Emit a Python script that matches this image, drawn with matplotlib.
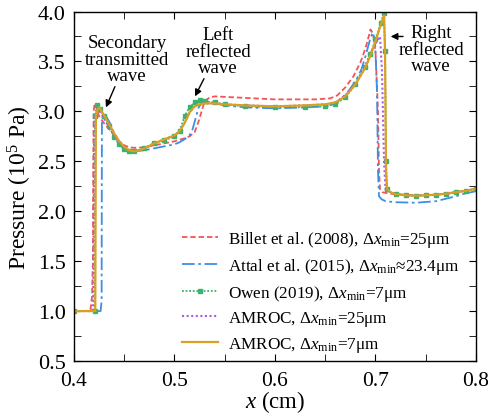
import matplotlib
matplotlib.use('Agg')
from matplotlib import pyplot as plt

plt.rcParams['font.family'] = ['Liberation Serif', 'DejaVu Serif']
plt.rcParams['mathtext.fontset'] = 'custom'
plt.rcParams['mathtext.rm'] = 'Liberation Serif'
plt.rcParams['mathtext.it'] = 'Liberation Serif:italic'

# Billet et al. (2008)
billet_x = [0.400, 0.414, 0.4165, 0.418, 0.4188, 0.4192, 0.4196, 0.4205, 0.422, 0.425, 0.430,
            0.435, 0.440, 0.445, 0.450, 0.455, 0.460, 0.470, 0.480, 0.490, 0.500, 0.510,
            0.515, 0.520, 0.524, 0.527, 0.530, 0.535, 0.540, 0.560, 0.580, 0.600, 0.620,
            0.640, 0.655, 0.662, 0.670, 0.678, 0.685, 0.690, 0.6935, 0.695, 0.6975, 0.700,
            0.7025, 0.7035, 0.7045, 0.707, 0.712, 0.720, 0.740, 0.760, 0.780, 0.800]
billet_y = [1.00, 1.00, 1.02, 1.15, 1.50, 2.50, 3.00, 3.08, 3.05, 2.95, 2.88,
            2.82, 2.76, 2.70, 2.66, 2.64, 2.635, 2.64, 2.66, 2.68, 2.70, 2.73,
            2.75, 2.79, 2.90, 3.00, 3.10, 3.14, 3.15, 3.14, 3.13, 3.12, 3.12,
            3.12, 3.13, 3.16, 3.24, 3.35, 3.49, 3.63, 3.76, 3.82, 3.78, 3.60,
            3.00, 2.40, 2.22, 2.19, 2.18, 2.17, 2.16, 2.165, 2.19, 2.225]

# Attal et al. (2015)
attal_x = [0.400, 0.4265, 0.4275, 0.4278, 0.429, 0.432, 0.436, 0.440, 0.445, 0.450, 0.455,
           0.460, 0.470, 0.480, 0.490, 0.500, 0.505, 0.510, 0.515, 0.518, 0.521, 0.524,
           0.528, 0.532, 0.540, 0.550, 0.570, 0.600, 0.630, 0.650, 0.660, 0.670, 0.680,
           0.686, 0.690, 0.694, 0.697, 0.6995, 0.7015, 0.7025, 0.7035, 0.706, 0.710,
           0.720, 0.740, 0.760, 0.780, 0.790, 0.800]
attal_y = [1.00, 1.00, 1.10, 2.90, 2.97, 2.95, 2.88, 2.78, 2.69, 2.64, 2.61,
           2.60, 2.61, 2.63, 2.65, 2.67, 2.69, 2.72, 2.76, 2.82, 2.93, 3.04,
           3.09, 3.10, 3.08, 3.06, 3.04, 3.03, 3.04, 3.05, 3.08, 3.16, 3.30,
           3.42, 3.55, 3.70, 3.79, 3.72, 3.20, 2.40, 2.15, 2.12, 2.10,
           2.09, 2.085, 2.10, 2.15, 2.18, 2.20]

# Owen (2019)
owen_x = [0.400, 0.4205, 0.421, 0.4225, 0.426, 0.430, 0.435, 0.440, 0.445, 0.450, 0.455,
          0.460, 0.470, 0.480, 0.490, 0.500, 0.505, 0.510, 0.515, 0.520, 0.525, 0.530,
          0.540, 0.550, 0.570, 0.600, 0.630, 0.650, 0.660, 0.670, 0.680, 0.690, 0.695,
          0.700, 0.705, 0.7085, 0.7095, 0.7105, 0.7115, 0.715, 0.720, 0.730, 0.740,
          0.750, 0.760, 0.770, 0.780, 0.790, 0.800]
owen_y = [1.00, 1.00, 2.95, 3.06, 3.02, 2.95, 2.85, 2.74, 2.67, 2.62, 2.60,
          2.60, 2.63, 2.68, 2.71, 2.75, 2.80, 2.95, 3.04, 3.09, 3.11, 3.10,
          3.09, 3.07, 3.05, 3.04, 3.04, 3.05, 3.07, 3.14, 3.27, 3.44, 3.57,
          3.72, 3.88, 3.99, 3.60, 2.50, 2.22, 2.19, 2.17, 2.16, 2.155,
          2.16, 2.165, 2.175, 2.19, 2.205, 2.225]

# AMROC, 25 um
amroc25_x = [0.400, 0.418, 0.419, 0.4195, 0.420, 0.4235, 0.427, 0.430, 0.435, 0.440, 0.445,
             0.450, 0.455, 0.460, 0.465, 0.470, 0.480, 0.490, 0.500, 0.505, 0.510, 0.515,
             0.520, 0.525, 0.530, 0.540, 0.550, 0.570, 0.600, 0.630, 0.650, 0.660, 0.670,
             0.680, 0.690, 0.695, 0.700, 0.7045, 0.7065, 0.7085, 0.710, 0.715, 0.720,
             0.730, 0.740, 0.750, 0.760, 0.770, 0.780, 0.790, 0.800]
amroc25_y = [1.00, 1.00, 1.05, 1.60, 2.90, 3.03, 2.98, 2.93, 2.84, 2.76, 2.69,
             2.64, 2.61, 2.60, 2.61, 2.63, 2.68, 2.72, 2.76, 2.80, 2.89, 2.99,
             3.05, 3.07, 3.08, 3.08, 3.07, 3.06, 3.05, 3.06, 3.07, 3.09, 3.16,
             3.28, 3.46, 3.58, 3.68, 3.75, 3.40, 2.50, 2.22, 2.19, 2.17,
             2.16, 2.155, 2.16, 2.165, 2.175, 2.19, 2.205, 2.225]

# AMROC, 7 um
amroc7_x = [0.400, 0.4212, 0.4218, 0.4235, 0.425, 0.430, 0.435, 0.440, 0.445, 0.450, 0.455,
            0.460, 0.465, 0.470, 0.480, 0.490, 0.500, 0.505, 0.510, 0.515, 0.520, 0.525,
            0.530, 0.540, 0.550, 0.570, 0.600, 0.630, 0.650, 0.660, 0.670, 0.680, 0.690,
            0.695, 0.700, 0.705, 0.7085, 0.7095, 0.7105, 0.7115, 0.715, 0.720, 0.730,
            0.740, 0.750, 0.760, 0.770, 0.780, 0.790, 0.800]
amroc7_y = [1.00, 1.00, 2.95, 3.02, 3.04, 2.96, 2.87, 2.78, 2.70, 2.645, 2.61,
            2.60, 2.61, 2.63, 2.68, 2.72, 2.76, 2.80, 2.88, 2.99, 3.05, 3.07,
            3.08, 3.08, 3.07, 3.06, 3.05, 3.06, 3.07, 3.09, 3.15, 3.27, 3.44,
            3.56, 3.70, 3.86, 3.96, 3.60, 2.40, 2.22, 2.19, 2.17, 2.16,
            2.155, 2.16, 2.165, 2.175, 2.19, 2.205, 2.225]

labels = [r'Billet et al. (2008), $\Delta x_{\mathrm{min}}$=25μm',
          r'Attal et al. (2015), $\Delta x_{\mathrm{min}}$≈23.4μm',
          r'Owen (2019), $\Delta x_{\mathrm{min}}$=7μm',
          r'AMROC, $\Delta x_{\mathrm{min}}$=25μm',
          r'AMROC, $\Delta x_{\mathrm{min}}$=7μm']

fig = plt.figure(figsize=(4.88, 4.14), dpi=100)
ax = fig.add_axes([0.1516, 0.1256, 0.8238, 0.8442])

ax.plot(billet_x, billet_y, color='#f25555', ls=(0, (3, 1.6)), lw=1.3, label=labels[0])
ax.plot(attal_x, attal_y, color='#3d8ee8', ls=(0, (7, 2, 1.5, 2)), lw=1.3, label=labels[1])
ax.plot(owen_x, owen_y, color='#3cb36a', ls=(0, (1, 1)), lw=1.3, marker='s', ms=3.2,
        markevery=0.014, label=labels[2])
ax.plot(amroc25_x, amroc25_y, color='#a95ce8', ls=(0, (1, 1.2)), lw=1.5, label=labels[3])
ax.plot(amroc7_x, amroc7_y, color='#d9a022', ls='-', lw=1.6, label=labels[4])

ax.set_xlim(0.4, 0.8)
ax.set_ylim(0.5, 4.0)
ax.set_xticks([0.4, 0.5, 0.6, 0.7, 0.8])
ax.set_xticks([0.45, 0.55, 0.65, 0.75], minor=True)
ax.set_yticks([0.5, 1.0, 1.5, 2.0, 2.5, 3.0, 3.5, 4.0])
ax.set_yticks([0.75, 1.25, 1.75, 2.25, 2.75, 3.25, 3.75], minor=True)
ax.tick_params(which='both', direction='in', top=True, right=True)
ax.tick_params(axis='x', pad=7, labelsize=15.5)
ax.tick_params(axis='y', pad=6, labelsize=16)
ax.tick_params(which='major', length=5)
ax.tick_params(which='minor', length=5)
for s in ax.spines.values():
    s.set_linewidth(1.0)

ax.set_xlabel('$x$ (cm)', fontsize=16.5, labelpad=-1)
ax.set_ylabel('Pressure (10$^5$ Pa)', fontsize=17, labelpad=3)

ax.annotate('Secondary\ntransmitted\nwave', xy=(0.4318, 3.04), xytext=(0.4527, 3.524),
            ha='center', va='center', fontsize=13.5, linespacing=0.95,
            arrowprops=dict(arrowstyle='-|>', color='k', lw=1.0, shrinkA=22, shrinkB=0,
                            mutation_scale=10))
ax.annotate('Left\nreflected\nwave', xy=(0.5204, 3.15), xytext=(0.5433, 3.604),
            ha='center', va='center', fontsize=13.5, linespacing=0.95,
            arrowprops=dict(arrowstyle='-|>', color='k', lw=1.0, shrinkA=22, shrinkB=0,
                            mutation_scale=10))
ax.annotate('', xy=(0.7151, 3.75), xytext=(0.7274, 3.75),
            arrowprops=dict(arrowstyle='-|>', color='k', lw=1.0, shrinkA=0, shrinkB=0,
                            mutation_scale=10))
ax.text(0.7552, 3.624, 'Right\nreflected\nwave', ha='center', va='center', fontsize=13.5,
        linespacing=0.95)

ax.legend(loc='lower right', frameon=False, fontsize=12.3, handlelength=2.1,
          handletextpad=0.55, labelspacing=0.4, borderaxespad=0.0,
          bbox_to_anchor=(0.975, 0.0))

fig.savefig('out.png', dpi=100)
